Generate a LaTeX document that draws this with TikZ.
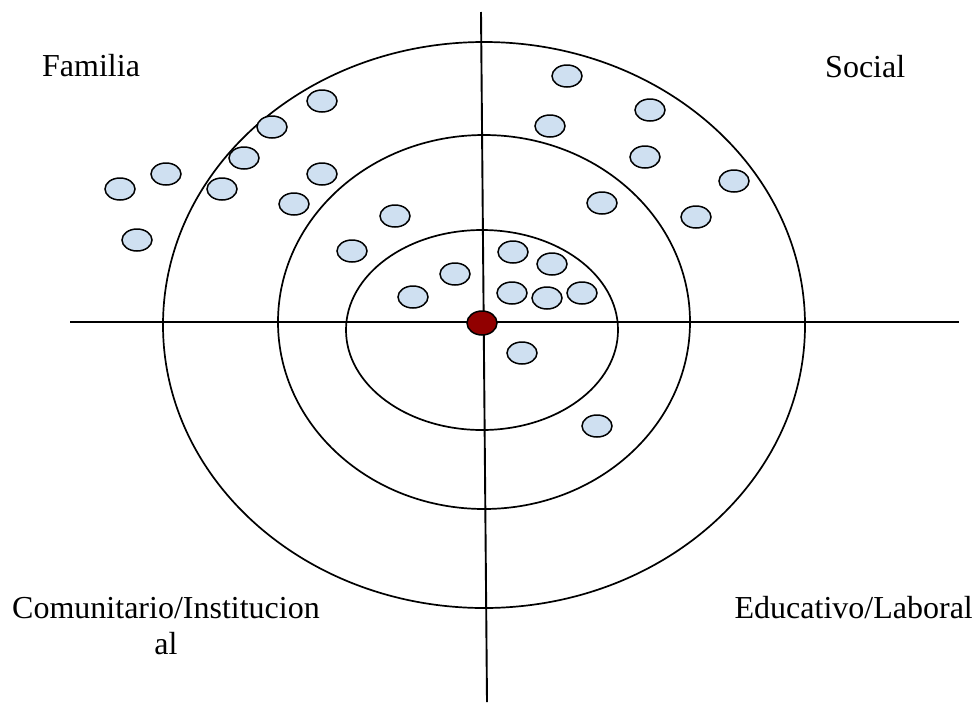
\documentclass[tikz,border=0pt]{standalone}
\usepackage{fontspec}
\setmainfont{Liberation Serif}
\usetikzlibrary{shapes.geometric}
\definecolor{dotblue}{RGB}{207,224,241}
\definecolor{dotred}{RGB}{145,0,0}
\tikzset{
  ring/.style={draw=black,line width=1.7pt},
  axis/.style={draw=black,line width=1.9pt},
  dot/.style={ellipse,draw=black,line width=1.5pt,fill=dotblue,minimum width=30pt,minimum height=22pt,inner sep=0pt},
  center dot/.style={ellipse,draw=black,line width=1.5pt,fill=dotred,minimum width=30pt,minimum height=24pt,inner sep=0pt},
  lbl/.style={font=\fontsize{32}{36}\selectfont,inner sep=0pt}
}
\begin{document}
\begin{tikzpicture}[x=1pt,y=-1pt]
\useasboundingbox (0,0) rectangle (979,702);
% rings
\draw[ring] (484,325) ellipse [x radius=321, y radius=283];
\draw[ring] (484,322) ellipse [x radius=206, y radius=187];
\draw[ring] (482,330) ellipse [x radius=136, y radius=100];
% axes
\coordinate (hl) at (70,322);
\coordinate (hr) at (959,322);
\coordinate (vt) at (481,12);
\coordinate (vb) at (487,702);
\draw[axis] (hl) -- (hr);
\draw[axis] (vt) -- (vb);
% small dots
\node[dot] (d1) at (567,76) {};
\node[dot] (d2) at (322,101) {};
\node[dot] (d3) at (650,110) {};
\node[dot] (d4) at (272,127) {};
\node[dot] (d5) at (550,126) {};
\node[dot] (d6) at (244,158) {};
\node[dot] (d7) at (645,157) {};
\node[dot] (d8) at (166,174) {};
\node[dot] (d9) at (120,189) {};
\node[dot] (d10) at (222,189) {};
\node[dot] (d11) at (322,174) {};
\node[dot] (d12) at (734,181) {};
\node[dot] (d13) at (294,204) {};
\node[dot] (d14) at (602,203) {};
\node[dot] (d15) at (696,217) {};
\node[dot] (d16) at (395,216) {};
\node[dot] (d17) at (137,240) {};
\node[dot] (d18) at (352,251) {};
\node[dot] (d19) at (513,252) {};
\node[dot] (d20) at (552,264) {};
\node[dot] (d21) at (455,274) {};
\node[dot] (d22) at (413,297) {};
\node[dot] (d23) at (512,293) {};
\node[dot] (d24) at (547,298) {};
\node[dot] (d25) at (582,293) {};
\node[dot] (d26) at (522,353) {};
\node[dot] (d27) at (597,426) {};
% centre
\node[center dot] (c) at (482,323) {};
% labels
\node[lbl,anchor=base west] (fam) at (42,76) {Familia};
\node[lbl,anchor=base west] (soc) at (825,77) {Social};
\node[lbl,anchor=base] (com) at (166,618) {Comunitario/Institucion};
\node[lbl,anchor=base] (com2) at (166,654) {al};
\node[lbl,anchor=base east] (edu) at (973,618) {Educativo/Laboral};
\end{tikzpicture}
\end{document}
